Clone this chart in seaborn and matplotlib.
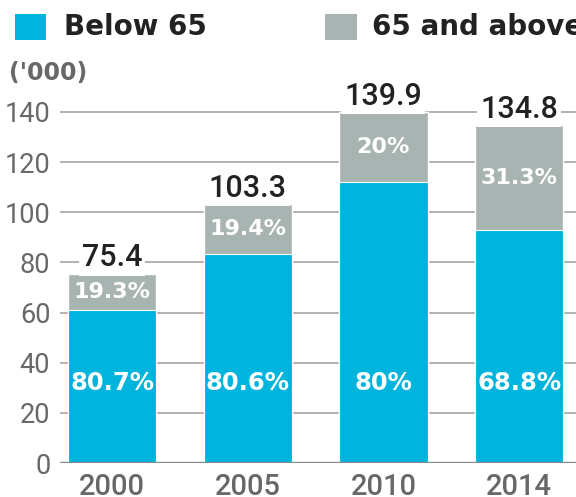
import matplotlib
matplotlib.use("Agg")
import matplotlib.pyplot as plt
import seaborn as sns
import pandas as pd
from matplotlib.patches import Rectangle

# ---- data ----
years = ["2000", "2005", "2010", "2014"]
totals = [75.4, 103.3, 139.9, 134.8]
below_pct = [80.7, 80.6, 80.0, 68.8]
above_pct = [19.3, 19.4, 20.0, 31.3]
below_labels = ["80.7%", "80.6%", "80%", "68.8%"]
above_labels = ["19.3%", "19.4%", "20%", "31.3%"]
total_labels = ["75.4", "103.3", "139.9", "134.8"]
yticks = [0, 20, 40, 60, 80, 100, 120, 140]
series_names = ["Below 65", "65 and above"]
unit_label = "('000)"

below = [t * p / 100 for t, p in zip(totals, below_pct)]
df = pd.DataFrame({"year": years, "total": totals, "below": below})

# ---- style ----
CYAN = "#00B5DD"
GRAY = "#A8B4B2"
DARK = "#222222"
TXTGRAY = "#686868"
ROBOTO = ["Roboto", "DejaVu Sans"]

sns.set_style("white")
plt.rcParams["font.family"] = ["DejaVu Sans"]

W, H = 576, 497
fig = plt.figure(figsize=(W / 100, H / 100), dpi=100)

px_per_unit = 351 / 140
ax_bottom = 463
ymax = 150
ax_top = ax_bottom - ymax * px_per_unit
ax_left, ax_right = 60, 576
ax = fig.add_axes([ax_left / W, 1 - ax_bottom / H,
                   (ax_right - ax_left) / W, (ax_bottom - ax_top) / H])

bw = 0.65
sns.barplot(data=df, x="year", y="total", color=GRAY, saturation=1,
            width=bw, errorbar=None, ax=ax, zorder=2)
sns.barplot(data=df, x="year", y="below", color=CYAN, saturation=1,
            width=bw, errorbar=None, ax=ax, zorder=2,
            edgecolor="white", linewidth=0.8)

# category spacing ~135.7 px, first centre at ~112 px
step = 135.7
x0 = -(112 - ax_left) / step
ax.set_xlim(x0, x0 + (ax_right - ax_left) / step)
ax.set_ylim(0, ymax)
ax.set_yticks(yticks)
ax.set_yticklabels([str(v) for v in yticks])
ax.set_xlabel("")
ax.set_ylabel("")
for s in ax.spines.values():
    s.set_visible(False)
ax.yaxis.grid(True, color="#9c9c9c", linewidth=1.1)
ax.xaxis.grid(False)
ax.set_axisbelow(True)
ax.axhline(0, color="#8a8a8a", linewidth=2.4, zorder=3)

ax.tick_params(axis="y", length=0, pad=7, labelsize=19.5, labelcolor=TXTGRAY)
ax.tick_params(axis="x", length=0, pad=7, labelsize=21, labelcolor=TXTGRAY)
for t in ax.get_yticklabels():
    t.set_family(ROBOTO)
for t in ax.get_xticklabels():
    t.set_family(ROBOTO)
    t.set_fontweight("medium")

# ---- labels ----
for i, (tot, b, tl, bl, al) in enumerate(zip(totals, below, total_labels,
                                               below_labels, above_labels)):
    ax.annotate(tl, (i, tot), xytext=(0, 11.5), textcoords="offset points",
                ha="center", va="center", fontsize=22, color=DARK,
                family=ROBOTO, fontweight="medium",
                bbox=dict(boxstyle="square,pad=0.1", fc="white", ec="none"),
                zorder=5, annotation_clip=False)
    ax.text(i, (b + tot) / 2, al, ha="center", va="center", fontsize=16,
            fontweight="bold", color="white", zorder=6)
    ax.text(i, 32, bl, ha="center", va="center", fontsize=17.5,
            fontweight="bold", color="white", zorder=6)

# ---- legend (manual) ----
def fx(x):
    return x / W


def fy(y):
    return 1 - y / H


fig.add_artist(Rectangle((fx(15), fy(40)), fx(46) - fx(15), fy(14) - fy(40),
                         transform=fig.transFigure, color=CYAN, lw=0))
fig.text(fx(64), fy(27), series_names[0], ha="left", va="center",
         fontsize=20, fontweight="bold", color=DARK)
fig.add_artist(Rectangle((fx(325), fy(40)), fx(357) - fx(325), fy(14) - fy(40),
                         transform=fig.transFigure, color=GRAY, lw=0))
fig.text(fx(372), fy(27), series_names[1], ha="left", va="center",
         fontsize=20, fontweight="bold", color=DARK)
fig.text(fx(9), fy(73), unit_label, ha="left", va="center",
         fontsize=17, fontweight="bold", color=TXTGRAY)

fig.savefig("out.png", dpi=100)
